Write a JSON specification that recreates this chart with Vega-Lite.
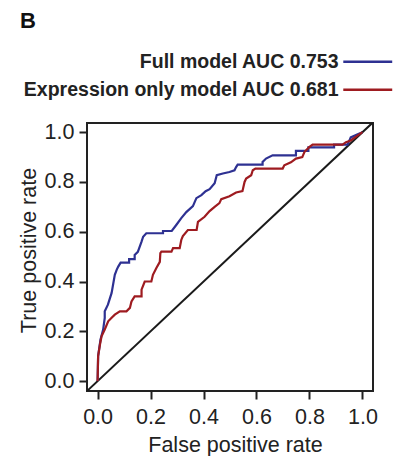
{
  "$schema": "https://vega.github.io/schema/vega-lite/v6.json",
  "autosize": "none",
  "padding": {"left": 87, "top": 123, "right": 21, "bottom": 65},
  "width": 286,
  "height": 268,
  "background": "white",
  "config": {
    "view": {"stroke": "#222", "strokeWidth": 2},
    "font": "Liberation Sans",
    "axis": {
      "domain": false, "grid": false,
      "tickSize": 8, "tickWidth": 2, "tickColor": "#222",
      "labelFont": "Liberation Sans", "labelFontSize": 21.5, "labelColor": "#222",
      "titleFont": "Liberation Sans", "titleFontSize": 21.5, "titleFontWeight": "normal", "titleColor": "#222"
    }
  },
  "title": {
    "text": "B", "anchor": "start", "frame": "group", "fontSize": 22, "fontWeight": "bold",
    "font": "Liberation Sans", "color": "#111", "dx": -67, "dy": 22, "offset": 24, "baseline": "alphabetic"
  },
  "datasets": {
    "roc": [
      {"model": "Full model AUC 0.753", "fpr": 0, "tpr": 0},
      {"model": "Full model AUC 0.753", "fpr": 0.002, "tpr": 0.10},
      {"model": "Full model AUC 0.753", "fpr": 0.011, "tpr": 0.167},
      {"model": "Full model AUC 0.753", "fpr": 0.021, "tpr": 0.207},
      {"model": "Full model AUC 0.753", "fpr": 0.027, "tpr": 0.254},
      {"model": "Full model AUC 0.753", "fpr": 0.027, "tpr": 0.28},
      {"model": "Full model AUC 0.753", "fpr": 0.039, "tpr": 0.307},
      {"model": "Full model AUC 0.753", "fpr": 0.053, "tpr": 0.354},
      {"model": "Full model AUC 0.753", "fpr": 0.065, "tpr": 0.427},
      {"model": "Full model AUC 0.753", "fpr": 0.072, "tpr": 0.447},
      {"model": "Full model AUC 0.753", "fpr": 0.078, "tpr": 0.46},
      {"model": "Full model AUC 0.753", "fpr": 0.087, "tpr": 0.476},
      {"model": "Full model AUC 0.753", "fpr": 0.119, "tpr": 0.476},
      {"model": "Full model AUC 0.753", "fpr": 0.119, "tpr": 0.49},
      {"model": "Full model AUC 0.753", "fpr": 0.14, "tpr": 0.49},
      {"model": "Full model AUC 0.753", "fpr": 0.14, "tpr": 0.507},
      {"model": "Full model AUC 0.753", "fpr": 0.152, "tpr": 0.519},
      {"model": "Full model AUC 0.753", "fpr": 0.166, "tpr": 0.56},
      {"model": "Full model AUC 0.753", "fpr": 0.172, "tpr": 0.58},
      {"model": "Full model AUC 0.753", "fpr": 0.184, "tpr": 0.594},
      {"model": "Full model AUC 0.753", "fpr": 0.247, "tpr": 0.594},
      {"model": "Full model AUC 0.753", "fpr": 0.247, "tpr": 0.603},
      {"model": "Full model AUC 0.753", "fpr": 0.28, "tpr": 0.603},
      {"model": "Full model AUC 0.753", "fpr": 0.297, "tpr": 0.627},
      {"model": "Full model AUC 0.753", "fpr": 0.316, "tpr": 0.655},
      {"model": "Full model AUC 0.753", "fpr": 0.335, "tpr": 0.679},
      {"model": "Full model AUC 0.753", "fpr": 0.36, "tpr": 0.703},
      {"model": "Full model AUC 0.753", "fpr": 0.373, "tpr": 0.735},
      {"model": "Full model AUC 0.753", "fpr": 0.392, "tpr": 0.747},
      {"model": "Full model AUC 0.753", "fpr": 0.408, "tpr": 0.763},
      {"model": "Full model AUC 0.753", "fpr": 0.423, "tpr": 0.771},
      {"model": "Full model AUC 0.753", "fpr": 0.442, "tpr": 0.795},
      {"model": "Full model AUC 0.753", "fpr": 0.45, "tpr": 0.827},
      {"model": "Full model AUC 0.753", "fpr": 0.473, "tpr": 0.834},
      {"model": "Full model AUC 0.753", "fpr": 0.498, "tpr": 0.84},
      {"model": "Full model AUC 0.753", "fpr": 0.517, "tpr": 0.847},
      {"model": "Full model AUC 0.753", "fpr": 0.523, "tpr": 0.86},
      {"model": "Full model AUC 0.753", "fpr": 0.529, "tpr": 0.87},
      {"model": "Full model AUC 0.753", "fpr": 0.623, "tpr": 0.87},
      {"model": "Full model AUC 0.753", "fpr": 0.623, "tpr": 0.88},
      {"model": "Full model AUC 0.753", "fpr": 0.636, "tpr": 0.894},
      {"model": "Full model AUC 0.753", "fpr": 0.661, "tpr": 0.907},
      {"model": "Full model AUC 0.753", "fpr": 0.749, "tpr": 0.907},
      {"model": "Full model AUC 0.753", "fpr": 0.749, "tpr": 0.925},
      {"model": "Full model AUC 0.753", "fpr": 0.796, "tpr": 0.925},
      {"model": "Full model AUC 0.753", "fpr": 0.796, "tpr": 0.939},
      {"model": "Full model AUC 0.753", "fpr": 0.893, "tpr": 0.939},
      {"model": "Full model AUC 0.753", "fpr": 0.893, "tpr": 0.95},
      {"model": "Full model AUC 0.753", "fpr": 0.944, "tpr": 0.95},
      {"model": "Full model AUC 0.753", "fpr": 0.956, "tpr": 0.979},
      {"model": "Full model AUC 0.753", "fpr": 0.98, "tpr": 0.991},
      {"model": "Full model AUC 0.753", "fpr": 1, "tpr": 1},
      {"model": "Expression only model AUC 0.681", "fpr": 0, "tpr": 0},
      {"model": "Expression only model AUC 0.681", "fpr": 0.002, "tpr": 0.10},
      {"model": "Expression only model AUC 0.681", "fpr": 0.009, "tpr": 0.147},
      {"model": "Expression only model AUC 0.681", "fpr": 0.015, "tpr": 0.18},
      {"model": "Expression only model AUC 0.681", "fpr": 0.027, "tpr": 0.207},
      {"model": "Expression only model AUC 0.681", "fpr": 0.04, "tpr": 0.24},
      {"model": "Expression only model AUC 0.681", "fpr": 0.053, "tpr": 0.254},
      {"model": "Expression only model AUC 0.681", "fpr": 0.065, "tpr": 0.267},
      {"model": "Expression only model AUC 0.681", "fpr": 0.084, "tpr": 0.28},
      {"model": "Expression only model AUC 0.681", "fpr": 0.109, "tpr": 0.28},
      {"model": "Expression only model AUC 0.681", "fpr": 0.122, "tpr": 0.294},
      {"model": "Expression only model AUC 0.681", "fpr": 0.128, "tpr": 0.32},
      {"model": "Expression only model AUC 0.681", "fpr": 0.14, "tpr": 0.34},
      {"model": "Expression only model AUC 0.681", "fpr": 0.166, "tpr": 0.34},
      {"model": "Expression only model AUC 0.681", "fpr": 0.166, "tpr": 0.367},
      {"model": "Expression only model AUC 0.681", "fpr": 0.178, "tpr": 0.40},
      {"model": "Expression only model AUC 0.681", "fpr": 0.203, "tpr": 0.40},
      {"model": "Expression only model AUC 0.681", "fpr": 0.209, "tpr": 0.427},
      {"model": "Expression only model AUC 0.681", "fpr": 0.222, "tpr": 0.454},
      {"model": "Expression only model AUC 0.681", "fpr": 0.235, "tpr": 0.479},
      {"model": "Expression only model AUC 0.681", "fpr": 0.237, "tpr": 0.514},
      {"model": "Expression only model AUC 0.681", "fpr": 0.241, "tpr": 0.52},
      {"model": "Expression only model AUC 0.681", "fpr": 0.279, "tpr": 0.52},
      {"model": "Expression only model AUC 0.681", "fpr": 0.285, "tpr": 0.534},
      {"model": "Expression only model AUC 0.681", "fpr": 0.31, "tpr": 0.534},
      {"model": "Expression only model AUC 0.681", "fpr": 0.316, "tpr": 0.567},
      {"model": "Expression only model AUC 0.681", "fpr": 0.322, "tpr": 0.583},
      {"model": "Expression only model AUC 0.681", "fpr": 0.341, "tpr": 0.607},
      {"model": "Expression only model AUC 0.681", "fpr": 0.374, "tpr": 0.607},
      {"model": "Expression only model AUC 0.681", "fpr": 0.379, "tpr": 0.64},
      {"model": "Expression only model AUC 0.681", "fpr": 0.404, "tpr": 0.66},
      {"model": "Expression only model AUC 0.681", "fpr": 0.423, "tpr": 0.683},
      {"model": "Expression only model AUC 0.681", "fpr": 0.442, "tpr": 0.70},
      {"model": "Expression only model AUC 0.681", "fpr": 0.46, "tpr": 0.715},
      {"model": "Expression only model AUC 0.681", "fpr": 0.467, "tpr": 0.731},
      {"model": "Expression only model AUC 0.681", "fpr": 0.498, "tpr": 0.743},
      {"model": "Expression only model AUC 0.681", "fpr": 0.523, "tpr": 0.758},
      {"model": "Expression only model AUC 0.681", "fpr": 0.547, "tpr": 0.763},
      {"model": "Expression only model AUC 0.681", "fpr": 0.555, "tpr": 0.80},
      {"model": "Expression only model AUC 0.681", "fpr": 0.561, "tpr": 0.814},
      {"model": "Expression only model AUC 0.681", "fpr": 0.58, "tpr": 0.827},
      {"model": "Expression only model AUC 0.681", "fpr": 0.586, "tpr": 0.847},
      {"model": "Expression only model AUC 0.681", "fpr": 0.596, "tpr": 0.854},
      {"model": "Expression only model AUC 0.681", "fpr": 0.699, "tpr": 0.854},
      {"model": "Expression only model AUC 0.681", "fpr": 0.705, "tpr": 0.867},
      {"model": "Expression only model AUC 0.681", "fpr": 0.73, "tpr": 0.879},
      {"model": "Expression only model AUC 0.681", "fpr": 0.749, "tpr": 0.894},
      {"model": "Expression only model AUC 0.681", "fpr": 0.773, "tpr": 0.90},
      {"model": "Expression only model AUC 0.681", "fpr": 0.781, "tpr": 0.92},
      {"model": "Expression only model AUC 0.681", "fpr": 0.799, "tpr": 0.94},
      {"model": "Expression only model AUC 0.681", "fpr": 0.812, "tpr": 0.95},
      {"model": "Expression only model AUC 0.681", "fpr": 0.925, "tpr": 0.95},
      {"model": "Expression only model AUC 0.681", "fpr": 0.938, "tpr": 0.96},
      {"model": "Expression only model AUC 0.681", "fpr": 0.956, "tpr": 0.967},
      {"model": "Expression only model AUC 0.681", "fpr": 0.98, "tpr": 0.985},
      {"model": "Expression only model AUC 0.681", "fpr": 1, "tpr": 1}
    ],
    "diag": [
      {"fpr": -0.04, "tpr": -0.04},
      {"fpr": 1.04, "tpr": 1.04}
    ]
  },
  "layer": [
    {
      "data": {"name": "diag"},
      "mark": {"type": "line", "color": "#1a1a1a", "strokeWidth": 2, "clip": true},
      "encoding": {
        "x": {"field": "fpr", "type": "quantitative"},
        "y": {"field": "tpr", "type": "quantitative"}
      }
    },
    {
      "data": {"name": "roc"},
      "mark": {"type": "line", "strokeWidth": 2.2, "interpolate": "linear"},
      "encoding": {
        "x": {
          "field": "fpr", "type": "quantitative",
          "scale": {"domain": [-0.04, 1.04], "nice": false, "zero": false},
          "axis": {
            "values": [0, 0.2, 0.4, 0.6, 0.8, 1.0], "format": ".1f",
            "labelPadding": 24, "labelBaseline": "alphabetic",
            "title": "False positive rate", "titleBaseline": "alphabetic",
            "titleX": 148, "titleY": 60, "titleAlign": "center", "titleAnchor": null
          }
        },
        "y": {
          "field": "tpr", "type": "quantitative",
          "scale": {"domain": [-0.04, 1.037], "nice": false, "zero": false},
          "axis": {
            "values": [0, 0.2, 0.4, 0.6, 0.8, 1.0], "format": ".1f",
            "labelPadding": 5, "labelBaseline": "middle",
            "title": "True positive rate", "titleBaseline": "alphabetic",
            "titleX": -52, "titleY": 127, "titleAngle": -90, "titleAlign": "center"
          }
        },
        "color": {
          "field": "model", "type": "nominal",
          "scale": {
            "domain": ["Full model AUC 0.753", "Expression only model AUC 0.681"],
            "range": ["#2e3192", "#9e1b20"]
          },
          "legend": {
            "title": null, "orient": "none", "legendX": 271, "legendY": -71,
            "symbolType": "M-3,0H3", "symbolSize": 266, "symbolStrokeWidth": 2.5,
            "labelAlign": "right", "labelOffset": -39, "labelLimit": 0,
            "labelFont": "Liberation Sans", "labelFontSize": 19.5, "labelFontWeight": "bold",
            "labelColor": "#222", "rowPadding": 7
          }
        }
      }
    }
  ]
}
